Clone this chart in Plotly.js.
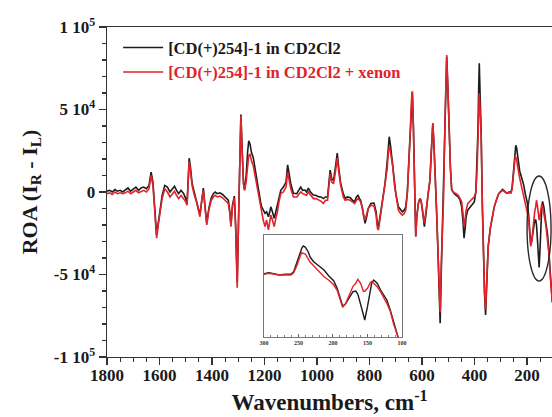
<!DOCTYPE html>
<html>
<head>
<meta charset="utf-8">
<script src="https://cdn.plot.ly/plotly-3.0.1.min.js"></script>
<style>html,body{margin:0;padding:0;background:#fff;}#chart{width:552px;height:417px;}</style>
</head>
<body>
<div id="chart"></div>
<script>
// Wavenumbers (cm^-1)
const wavenumbers = [1800,1790,1780,1770,1760,1750,1740,1730,1720,1710,1700,1690,1680,1670,1660,1650,1640,1632,1625,1618,1611,1604,1598,1590,1580,1570,1560,1550,1543,1535,1527,1518,1508,1500,1495,1490,1487,1482,1476,1468,1459,1452,1446,1440,1433,1427,1420,1412,1403,1395,1388,1380,1370,1360,1350,1338,1332,1328,1322,1315,1310,1304,1298,1294,1290,1285,1280,1276,1270,1264,1260,1255,1250,1243,1236,1230,1222,1215,1211,1205,1198,1192,1185,1180,1176,1170,1163,1157,1151,1145,1138,1128,1118,1112,1106,1100,1090,1077,1070,1062,1055,1046,1040,1033,1025,1014,1005,995,985,976,968,960,955,950,944,937,930,923,917,910,900,893,885,873,865,857,850,844,838,834,827,822,817,811,805,795,783,775,770,766,760,753,747,741,733,728,725,720,712,705,700,690,682,675,668,662,656,650,644,640,637,633,630,627,624,620,614,608,604,598,591,587,582,576,570,565,559,555,550,545,540,535,531,527,522,518,512,506,501,497,492,487,482,477,470,462,455,449,444,440,436,432,426,421,415,408,401,395,390,387,384,382,379,375,370,366,362,358,354,348,340,333,325,317,308,300,293,286,278,269,261,257,252,247,245,243,240,236,233,228,220,213,206,199,194,189,186,182,177,171,167,164,160,156,154,150,146,144,141,136,131,127,122,117,112,107,104];

// ROA of [CD(+)254]-1 in CD2Cl2
const roaCD2Cl2 = [500,1000,0,1500,500,1000,0,1500,2500,500,2000,3000,1000,2500,3000,2000,4000,12000,6000,-10000,-26000,-18000,-10000,-2000,4000,3000,0,2000,3500,1000,-1000,1000,-1000,-4000,-7000,10000,20500,15000,5400,0,-4800,-10000,-14000,-5000,2400,-8000,-19000,-10000,-3600,-1000,0,-1000,-500,-1500,-3000,-5000,-12000,-20000,-8000,-2500,-20000,-55000,-10000,25000,47000,25000,5000,1200,10000,25000,31000,29000,24000,21000,14000,7000,0,-6000,-9000,-11000,-13000,-12000,-15000,-12000,-9000,-12000,-16000,-12000,-8000,-3000,1000,3000,6000,16400,10000,5000,-800,-1000,1000,3000,1000,1200,0,2400,0,-1800,-2000,-2800,-3000,-4000,-3000,-3000,5000,13300,8000,7000,15000,23600,14000,5400,-1000,-4000,-3000,-3500,-5000,-6000,-3000,-2000,-4000,-5000,-10000,-16000,-19000,-15000,-10000,-7000,-6700,-12000,-20000,-21000,-15000,-9000,-2000,5000,18000,30000,33500,28000,17600,5000,-800,-9000,-11000,-12000,-11000,-9000,0,17600,40000,55000,60800,40000,17600,-10000,-27000,-15000,-6700,-4000,-5000,-12000,-21000,-16000,-7000,0,7000,25000,41600,30000,13000,-10000,-33000,-60000,-79600,-50000,-20000,-3000,48000,82000,60000,37600,15000,1200,0,-1000,-2000,-3000,-5000,-9000,-18000,-28000,-22000,-15000,-11000,-10000,-9500,-8000,-6000,0,20000,37600,65000,78000,60000,37600,-10000,-43000,-62000,-74500,-55000,-33000,-22000,-15000,-9000,-5000,-1000,500,1600,600,-700,0,0,2600,12600,24300,26500,28300,27000,22600,17000,12600,8300,4300,-1700,-6400,-14000,-25700,-31700,-29700,-24000,-17400,-16700,-20000,-30000,-42000,-45700,-32400,-14000,-9000,-5700,-9000,-15700,-19700,-25700,-35700,-47400,-59000,-67000];

// ROA of [CD(+)254]-1 in CD2Cl2 + xenon
const roaXenon = [-1000,-500,-1500,0,-1000,-500,-1000,-500,500,-1000,0,1000,-500,500,1000,0,2000,10000,4000,-12000,-28000,-19000,-11000,-4000,2000,0,-3000,-1000,500,-2000,-4000,-2000,-4000,-6000,-8000,8000,18400,13000,4000,-1500,-6000,-11000,-15000,-6000,1000,-9000,-20000,-11000,-5000,-3000,-2000,-3000,-2500,-3500,-5000,-7000,-13000,-21000,-9000,-3600,-22000,-58000,-10000,25000,46000,24000,5000,1000,6000,16000,22000,23000,19000,16000,10000,4000,-3000,-10000,-12000,-17000,-21000,-17000,-23000,-18000,-14000,-17000,-21000,-16000,-12000,-6000,-1000,0,3000,12000,7000,2000,-3000,-3000,-1500,0,-1000,-1500,-2000,0,-2000,-4000,-4000,-5000,-5500,-7000,-5000,-5000,3000,11000,6000,5000,12000,20500,12000,4000,-3000,-5000,-4500,-5000,-6000,-7000,-5000,-4000,-5000,-6000,-10000,-15000,-17000,-14000,-10000,-8000,-8500,-14000,-22000,-23000,-16000,-10000,-3000,3000,14000,25000,27500,24000,16000,4000,-2000,-11000,-13000,-14000,-13000,-11000,-1000,17000,40000,56000,61000,40000,17000,-10000,-27000,-15000,-7000,-4000,-5000,-11000,-19000,-14000,-7000,0,7000,25000,41600,30000,13000,-10000,-33000,-58000,-73000,-45000,-18000,-3000,48000,83000,60000,37600,15000,1200,0,-500,-1000,-2000,-4000,-6000,-13000,-21000,-17000,-11000,-7000,-6000,-5500,-4000,-3000,0,15000,30000,50000,59800,50000,35000,-10000,-43000,-60000,-71000,-52000,-33000,-22000,-15000,-9000,-5000,-1000,0,1000,300,-700,-500,-700,1600,9300,19300,21600,21000,20300,15500,12000,8500,2500,-2500,-6000,-10500,-16000,-27400,-33000,-29700,-21000,-12000,-9000,-5000,-9000,-17000,-17000,-14000,-8500,-7400,-9000,-12400,-17500,-22000,-29000,-37000,-50000,-60000,-66000];

const seriesNames = ['[CD(+)254]-1 in CD2Cl2', '[CD(+)254]-1 in CD2Cl2 + xenon'];
const yTickValues = [-100000, -50000, 0, 50000, 100000];
const yTickLabels = ['-1 10<sup>5</sup>', '-5 10<sup>4</sup>', '0', '5 10<sup>4</sup>', '1 10<sup>5</sup>'];
const insetTickValues = [300, 250, 200, 150, 100];

const BLACK = '#1c1c1c';
const RED = '#e0232b';
const SERIF = 'Liberation Serif, Times New Roman, serif';

const traces = [
  {x: wavenumbers, y: roaCD2Cl2, type: 'scatter', mode: 'lines', name: seriesNames[0],
   line: {color: BLACK, width: 1.6}, xaxis: 'x', yaxis: 'y'},
  {x: wavenumbers, y: roaXenon, type: 'scatter', mode: 'lines',
   name: '<span style="color:' + RED + '">' + seriesNames[1] + '</span>',
   line: {color: RED, width: 1.6}, xaxis: 'x', yaxis: 'y'},
  {x: wavenumbers, y: roaCD2Cl2, type: 'scatter', mode: 'lines', showlegend: false,
   line: {color: BLACK, width: 1.4}, xaxis: 'x2', yaxis: 'y2'},
  {x: wavenumbers, y: roaXenon, type: 'scatter', mode: 'lines', showlegend: false,
   line: {color: RED, width: 1.4}, xaxis: 'x2', yaxis: 'y2'}
];

const layout = {
  width: 552, height: 417,
  margin: {l: 107, r: 0, t: 27, b: 60},
  paper_bgcolor: '#fff', plot_bgcolor: '#fff',
  font: {family: SERIF, color: '#1a1a1a', weight: 'bold'},
  showlegend: true,
  legend: {x: 0.025, y: 0.99, xanchor: 'left', yanchor: 'top', bgcolor: 'rgba(0,0,0,0)',
           font: {family: SERIF, size: 16.5, color: '#1a1a1a', weight: 'bold'},
           itemwidth: 40, tracegroupgap: 0},
  xaxis: {
    range: [1800, 105], domain: [0, 1], anchor: 'y',
    showgrid: false, zeroline: false, showline: true, mirror: true,
    linecolor: '#333', linewidth: 1.4,
    ticks: 'outside', ticklen: 7, tickwidth: 1.3, tickcolor: '#333',
    tickmode: 'linear', tick0: 0, dtick: 200, ticklabelstandoff: -5,
    minor: {ticks: 'outside', ticklen: 4, tickwidth: 1.1, tickcolor: '#333', dtick: 50, tick0: 0, showgrid: false},
    tickfont: {family: SERIF, size: 17, color: '#1a1a1a', weight: 'bold'},
    title: {text: 'Wavenumbers, cm<sup>-1</sup>', font: {family: SERIF, size: 23, color: '#1a1a1a', weight: 'bold'}, standoff: 10}
  },
  yaxis: {
    range: [-100000, 100000], domain: [0, 1], anchor: 'x',
    showgrid: false, zeroline: false, showline: true,
    linecolor: '#333', linewidth: 1.4,
    ticks: 'outside', ticklen: 7, tickwidth: 1.3, tickcolor: '#333',
    tickmode: 'array', tickvals: yTickValues, ticktext: yTickLabels,
    minor: {ticks: 'outside', ticklen: 4, tickwidth: 1.1, tickcolor: '#333', dtick: 10000, tick0: 0, showgrid: false},
    tickfont: {family: SERIF, size: 17, color: '#1a1a1a', weight: 'bold'},
    title: {text: 'ROA (I<sub>R</sub> - I<sub>L</sub>)', font: {family: SERIF, size: 22, color: '#1a1a1a', weight: 'bold'}, standoff: 10}
  },
  xaxis2: {
    range: [300, 100], domain: [0.3528, 0.6629], anchor: 'y2',
    showgrid: false, zeroline: false, showline: true, mirror: true,
    linecolor: '#777', linewidth: 1.2,
    ticks: 'inside', ticklen: 3, tickwidth: 1, tickcolor: '#666',
    tickmode: 'array', tickvals: insetTickValues,
    minor: {ticks: 'inside', ticklen: 2, tickwidth: 0.8, tickcolor: '#666', dtick: 10, tick0: 0},
    tickfont: {family: SERIF, size: 6, color: '#333', weight: 'bold'}
  },
  yaxis2: {
    range: [-62700, 39300], domain: [0.0606, 0.3697], anchor: 'x2',
    showgrid: false, zeroline: false, showline: true, mirror: true,
    linecolor: '#777', linewidth: 1.2, showticklabels: false, ticks: ''
  },
  shapes: [
    {type: 'circle', xref: 'x', yref: 'y', x0: 200, x1: 108.6, y0: -54000, y1: 9700,
     line: {color: '#2a2a2a', width: 1.4}}
  ]
};

Plotly.newPlot('chart', traces, layout, {displayModeBar: false, staticPlot: true});
</script>
</body>
</html>
